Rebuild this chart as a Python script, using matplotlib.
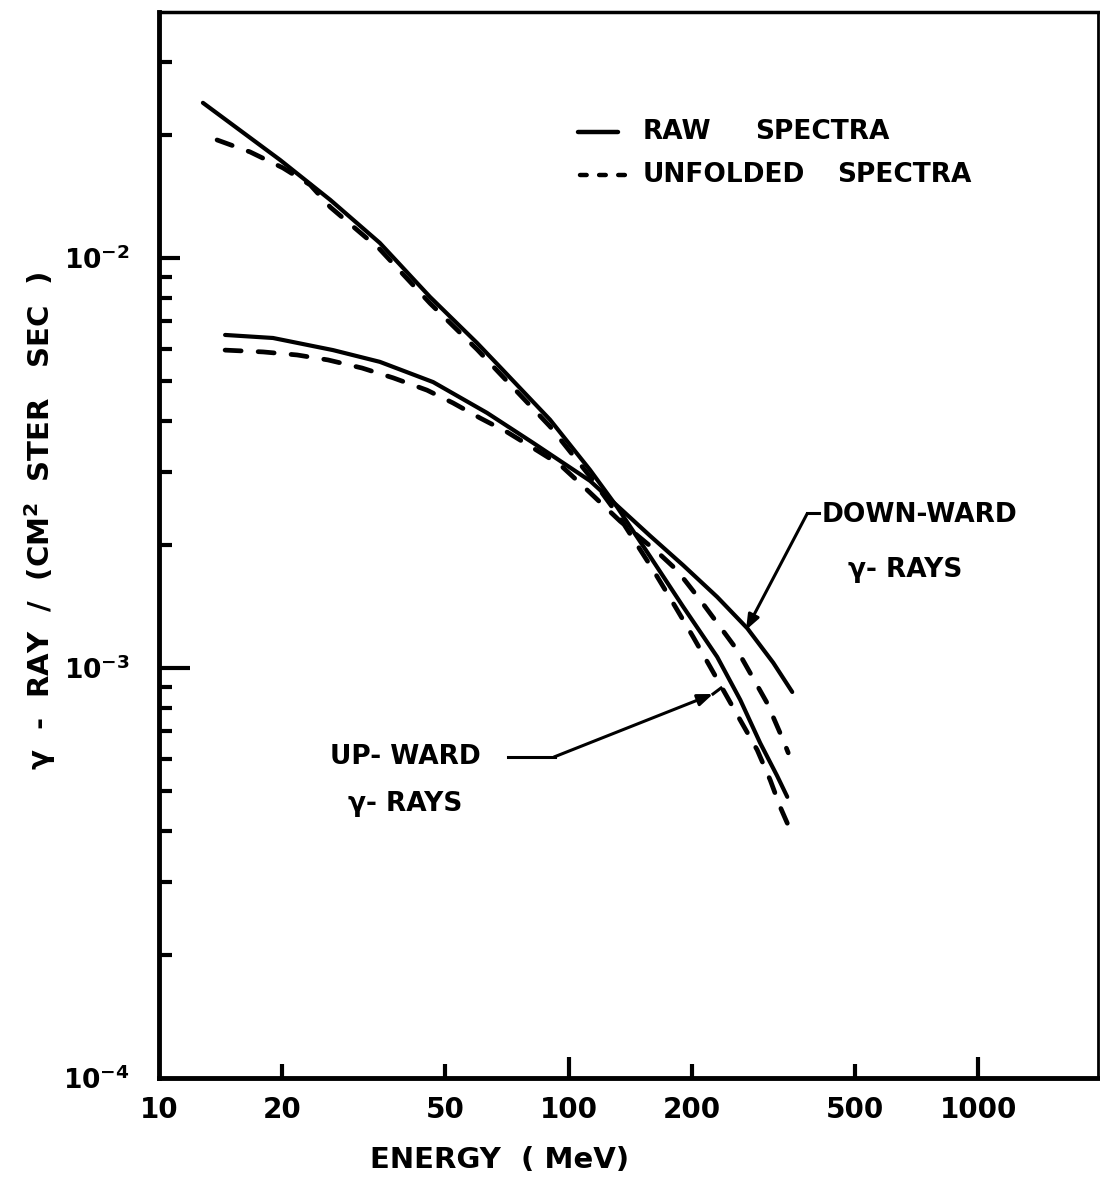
import matplotlib
matplotlib.use("Agg")
import matplotlib.pyplot as plt
from matplotlib.ticker import FixedLocator, FixedFormatter, NullLocator, NullFormatter

plt.rcParams['font.family'] = ['DejaVu Sans']
plt.rcParams['font.weight'] = 'bold'
plt.rcParams['mathtext.fontset'] = 'dejavusans'
plt.rcParams['mathtext.default'] = 'bf'

# ---------------- data ----------------
up_raw_E = [12.8, 19.75, 26.2, 34.6, 45.9, 59.8, 68.0, 90.1, 112.8, 131.3,
            158.1, 190.4, 230.5, 262.4, 293.5, 323.0, 341.7]
up_raw_F = [0.0239, 0.01734, 0.01385, 0.01088, 8.03e-3, 6.20e-3, 5.42e-3,
            4.03e-3, 3.04e-3, 2.47e-3, 1.87e-3, 1.41e-3, 1.064e-3, 8.36e-4,
            6.56e-4, 5.45e-4, 4.85e-4]

up_unf_E = [13.86, 16.68, 20.08, 23.4, 26.2, 34.6, 45.9, 59.8, 68.0, 90.1,
            112.8, 131.3, 160.8, 179.9, 201.4, 221.6, 262.4, 288.6, 310.5,
            328.5, 347.4]
up_unf_F = [0.0194, 0.01814, 0.01658, 0.01507, 0.0133, 0.0105, 7.75e-3,
            5.98e-3, 5.22e-3, 3.88e-3, 2.93e-3, 2.38e-3, 1.734e-3, 1.44e-3,
            1.19e-3, 1.006e-3, 7.46e-4, 6.31e-4, 5.33e-4, 4.58e-4, 4.03e-4]

down_raw_E = [14.5, 18.98, 26.6, 34.6, 46.7, 63.2, 81.9, 112.8, 158.1, 190.4,
              230.5, 272.9, 315.8, 351.4]
down_raw_F = [6.49e-3, 6.38e-3, 5.96e-3, 5.58e-3, 4.98e-3, 4.19e-3, 3.54e-3,
              2.86e-3, 2.10e-3, 1.78e-3, 1.49e-3, 1.25e-3, 1.03e-3, 8.74e-4]

down_unf_E = [14.5, 17.95, 21.73, 25.86, 31.3, 37.3, 45.1, 52.2, 60.8, 70.8,
              81.9, 95.3, 106.7, 133.6, 164.5, 184.0, 209.5, 234.4, 257.9,
              277.5, 305.2, 334.0, 343.6]
down_unf_F = [5.96e-3, 5.90e-3, 5.80e-3, 5.64e-3, 5.39e-3, 5.10e-3, 4.76e-3,
              4.43e-3, 4.07e-3, 3.76e-3, 3.44e-3, 3.13e-3, 2.82e-3, 2.28e-3,
              1.92e-3, 1.73e-3, 1.465e-3, 1.259e-3, 1.106e-3, 9.72e-4,
              8.21e-4, 6.67e-4, 6.21e-4]

x_ticks = [10, 20, 50, 100, 200, 500, 1000]
x_tick_labels = ['10', '20', '50', '100', '200', '500', '1000']
y_ticks = [1e-4, 1e-3, 1e-2]
y_tick_labels = [r'$10^{-4}$', r'$10^{-3}$', r'$10^{-2}$']
y_minor = [m * d for d in (1e-4, 1e-3) for m in range(2, 10)] + [2e-2, 3e-2]

legend_words = [('RAW', 'SPECTRA'), ('UNFOLDED', 'SPECTRA')]
x_label = 'ENERGY  ( MeV)'
y_label = 'γ  -  RAY  /  (CM$^{2}$  STER   SEC  )'

# ---------------- figure ----------------
W, H = 1100, 1178
fig = plt.figure(figsize=(W / 100, H / 100), dpi=100)
L, R, T, B = 159, 1098, 12, 1078
ax = fig.add_axes([L / W, 1 - B / H, (R - L) / W, (B - T) / H])


def af(px, py):
    return ((px - L) / (R - L), (B - py) / (B - T))


lw = 3.0
dash = (0, (3.4, 3.6))
ax.plot(up_raw_E, up_raw_F, color='black', lw=lw, solid_capstyle='round',
        solid_joinstyle='round')
ax.plot(down_raw_E, down_raw_F, color='black', lw=lw, solid_capstyle='round',
        solid_joinstyle='round')
ax.plot(up_unf_E, up_unf_F, color='black', lw=lw + 0.4, ls=dash,
        dash_capstyle='round')
ax.plot(down_unf_E, down_unf_F, color='black', lw=lw + 0.4, ls=dash,
        dash_capstyle='round')

ax.set_xscale('log')
ax.set_yscale('log')
ax.set_xlim(10, 1960)
ax.set_ylim(1e-4, 0.0398)

ax.xaxis.set_major_locator(FixedLocator(x_ticks))
ax.xaxis.set_major_formatter(FixedFormatter(x_tick_labels))
ax.xaxis.set_minor_locator(NullLocator())
ax.yaxis.set_major_locator(FixedLocator(y_ticks))
ax.yaxis.set_major_formatter(FixedFormatter(y_tick_labels))
ax.yaxis.set_minor_locator(FixedLocator(y_minor))
ax.yaxis.set_minor_formatter(NullFormatter())

ax.tick_params(which='both', direction='in', width=3, color='black',
               top=False, right=False)
ax.tick_params(axis='x', which='major', length=10, pad=13, labelsize=20)
ax.tick_params(axis='y', which='major', length=15, pad=21, labelsize=19)
ax.tick_params(axis='y', which='minor', length=9.5)

for lab in ax.get_xticklabels():
    lab.set_fontweight('bold')

# individual tick lengths as in the reference
xt = ax.xaxis.get_major_ticks()
for t, v in zip(xt, x_ticks):
    if v == 10:
        t.tick1line.set_markersize(0)
    elif v in (100, 1000):
        t.tick1line.set_markersize(15)
    else:
        t.tick1line.set_markersize(10)
yt = ax.yaxis.get_major_ticks()
for t, v in zip(yt, y_ticks):
    if v == 1e-4:
        t.tick1line.set_markersize(0)
    elif v == 1e-3:
        t.tick1line.set_markersize(22)
    else:
        t.tick1line.set_markersize(15)

ax.spines['left'].set_linewidth(3.5)
ax.spines['bottom'].set_linewidth(3.5)
ax.spines['top'].set_linewidth(2.5)
ax.spines['right'].set_linewidth(2.0)

FS = 19
# legend (hand-drawn style)
x0, y0 = af(578, 132)
x1, _ = af(618, 132)
ax.plot([x0, x1], [y0, y0], transform=ax.transAxes, color='black', lw=3.2,
        solid_capstyle='round')
x0, y1 = af(580, 175)
x1, _ = af(626, 175)
ax.plot([x0, x1], [y1, y1], transform=ax.transAxes, color='black', lw=3.2,
        ls=(0, (1.5, 2.8)), dash_capstyle='round')
for (w1, w2), yy, x2 in zip(legend_words, (y0, y1), (755, 837)):
    ax.text(af(643, 0)[0], yy, w1, transform=ax.transAxes, fontsize=FS,
            fontweight='bold', ha='left', va='center')
    ax.text(af(x2, 0)[0], yy, w2, transform=ax.transAxes, fontsize=FS,
            fontweight='bold', ha='left', va='center')

# DOWN-WARD annotation
p = af(822, 515)
ax.text(p[0], p[1], 'DOWN-WARD', transform=ax.transAxes, fontsize=FS,
        fontweight='bold', ha='left', va='center')
p = af(848, 570)
ax.text(p[0], p[1], 'γ- RAYS', transform=ax.transAxes, fontsize=FS,
        fontweight='bold', ha='left', va='center')
a, b = af(819, 513), af(807, 513)
ax.plot([a[0], b[0]], [a[1], b[1]], transform=ax.transAxes, color='black',
        lw=2.2)
ax.annotate('', xy=af(746, 630), xycoords='axes fraction',
            xytext=af(807, 514), textcoords='axes fraction',
            arrowprops=dict(arrowstyle='-|>,head_length=0.9,head_width=0.35',
                            color='black', lw=2.2, shrinkA=0, shrinkB=0))

# UP-WARD annotation
p = af(330, 757)
ax.text(p[0], p[1], 'UP- WARD', transform=ax.transAxes, fontsize=FS,
        fontweight='bold', ha='left', va='center')
p = af(348, 804)
ax.text(p[0], p[1], 'γ- RAYS', transform=ax.transAxes, fontsize=FS,
        fontweight='bold', ha='left', va='center')
a, b = af(508, 757), af(555, 757)
ax.plot([a[0], b[0]], [a[1], b[1]], transform=ax.transAxes, color='black',
        lw=2.2)
ax.annotate('', xy=af(713, 694), xycoords='axes fraction',
            xytext=af(554, 757), textcoords='axes fraction',
            arrowprops=dict(arrowstyle='-|>,head_length=0.9,head_width=0.35',
                            color='black', lw=2.2, shrinkA=0, shrinkB=0))
a, b = af(713, 694), af(721, 688)
ax.plot([a[0], b[0]], [a[1], b[1]], transform=ax.transAxes,
        color='black', lw=2.2)

# axis labels
fig.text(500 / W, 1 - 1160 / H, x_label, fontsize=21, fontweight='bold',
         ha='center', va='center')
fig.text(40 / W, 1 - 521 / H, y_label, fontsize=21, fontweight='bold',
         ha='center', va='center', rotation=90)

fig.savefig('out.png', dpi=100)
